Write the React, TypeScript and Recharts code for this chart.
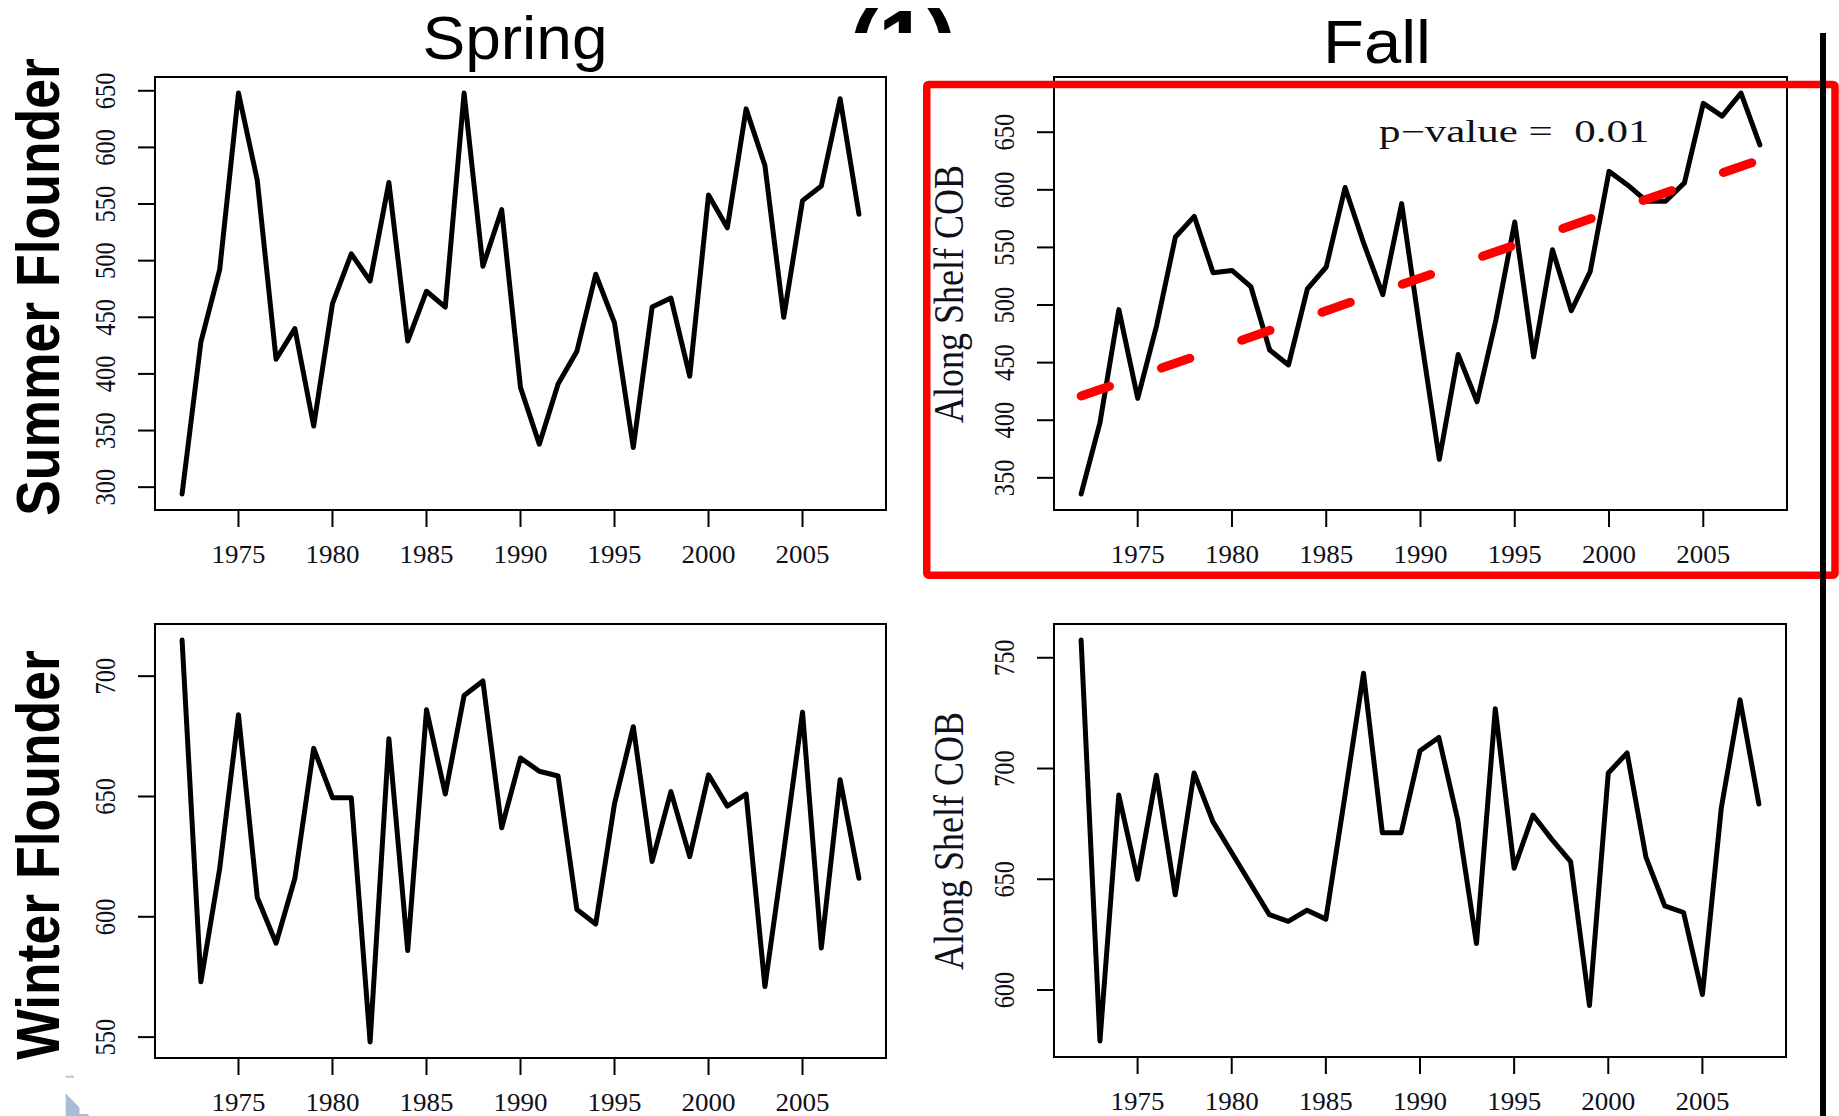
import React from "react";
import { LineChart, Line, XAxis, YAxis, ReferenceArea, ReferenceLine } from "recharts";

// survey years shared by all four panels
const years = [
  1972, 1973, 1974, 1975, 1976, 1977, 1978, 1979, 1980, 1981, 1982, 1983, 1984,
  1985, 1986, 1987, 1988, 1989, 1990, 1991, 1992, 1993, 1994, 1995, 1996, 1997,
  1998, 1999, 2000, 2001, 2002, 2003, 2004, 2005, 2006, 2007, 2008,
];

// along shelf centre of biomass, one value per year
const summerSpring = [
  294, 428, 492, 648, 571, 413, 440, 354, 462, 506, 482, 569, 429, 473, 459, 648,
  495, 545, 388, 338, 391, 420, 488, 445, 335, 459, 467, 398, 558, 529, 634, 584,
  450, 553, 566, 643, 541,
];
const summerFall = [
  336, 398, 496, 419, 482, 559, 577, 528, 530, 516, 461, 448, 514, 533, 602, 553,
  509, 588, 475, 366, 457, 416, 487, 572, 455, 548, 495, 529, 616, 604, 590, 590,
  606, 675, 664, 684, 639,
];
const winterSpring = [
  715, 573, 620, 684, 608, 589, 616, 670, 649.5, 649.5, 548, 674, 586, 686, 651,
  692, 698, 637, 666, 660.5, 658.5, 603, 597, 647, 679, 623, 652, 625, 659, 646,
  651, 571, 627, 685, 587, 657, 616,
];
const winterFall = [
  758, 577, 688, 650, 697, 643, 698, 676, 662, 648, 634, 631, 636, 632, 687, 743,
  671, 671, 708, 714, 677, 621, 727, 655, 679, 668, 658, 593, 698, 707, 660, 638,
  635, 598, 682, 731, 684,
];

const yearTicks = [1975, 1980, 1985, 1990, 1995, 2000, 2005];
const summerSpringTicks = [300, 350, 400, 450, 500, 550, 600, 650];
const summerFallTicks = [350, 400, 450, 500, 550, 600, 650];
const winterSpringTicks = [550, 600, 650, 700];
const winterFallTicks = [600, 650, 700, 750];

// linear trend on the fall summer flounder series (end points)
const summerFallTrend = [
  { year: 1972, cob: 421 },
  { year: 2008, cob: 626 },
];
const summerFallPValue = 0.01;

const SERIF = '"Liberation Serif", "Times New Roman", serif';
const SANS = '"Liberation Sans", Arial, sans-serif';

const PAD_L = 70;
const PAD_T = 10;
const PAD_R = 10;
const PAD_B = 70;
const TICK = 17;

// base R style axis range: data range plus 4% each side
const padRange = (vals: number[]): [number, number] => {
  const lo = Math.min(...vals);
  const hi = Math.max(...vals);
  const d = (hi - lo) * 0.04;
  return [lo - d, hi + d];
};

// text drawn a little wider than tall, like the exported figure
const Stretched = ({ x, y, sx, angle = 0, children, ...rest }: any) => (
  <g transform={`translate(${x},${y}) scale(${sx},1) rotate(${angle})`}>
    <text x={0} y={0} style={{ whiteSpace: "pre" }} {...rest}>
      {children}
    </text>
  </g>
);

const XTick = ({ x, y, payload }: any) => (
  <Stretched x={x} y={y + 36} sx={1.08} textAnchor="middle" fontFamily={SERIF} fontSize={25} fill="#10101a">
    {payload.value}
  </Stretched>
);

const YTick = ({ x, y, payload }: any) => (
  <Stretched x={x - 23.5} y={y} sx={1.18} angle={-90} textAnchor="middle" fontFamily={SERIF} fontSize={24.5} fill="#10101a">
    {payload.value}
  </Stretched>
);

interface PanelProps {
  left: number;
  top: number;
  width: number;
  height: number;
  values: number[];
  yTicks: number[];
  trend?: { year: number; cob: number }[];
}

const Panel = ({ left, top, width, height, values, yTicks, trend }: PanelProps) => {
  const data = years.map((year, i) => ({ year, cob: values[i] }));
  const xDomain = padRange(years);
  const yDomain = padRange(values);

  return (
    <div style={{ position: "absolute", left: left - PAD_L, top: top - PAD_T }}>
      <LineChart
        width={width + PAD_L + PAD_R}
        height={height + PAD_T + PAD_B}
        data={data}
        margin={{ top: PAD_T, right: PAD_R, bottom: 0, left: 0 }}
      >
        <XAxis
          dataKey="year"
          type="number"
          domain={xDomain}
          allowDataOverflow
          ticks={yearTicks}
          interval={0}
          height={PAD_B}
          tickSize={TICK}
          tickMargin={0}
          axisLine={false}
          tickLine={{ stroke: "#000", strokeWidth: 2 }}
          tick={<XTick />}
        />
        <YAxis
          type="number"
          domain={yDomain}
          allowDataOverflow
          ticks={yTicks}
          interval={0}
          width={PAD_L}
          tickSize={TICK}
          tickMargin={0}
          axisLine={false}
          tickLine={{ stroke: "#000", strokeWidth: 2 }}
          tick={<YTick />}
        />
        <ReferenceArea
          x1={xDomain[0]}
          x2={xDomain[1]}
          y1={yDomain[0]}
          y2={yDomain[1]}
          fill="none"
          stroke="#000"
          strokeWidth={2}
          ifOverflow="visible"
        />
        <Line
          dataKey="cob"
          type="linear"
          stroke="#000"
          strokeWidth={5}
          strokeLinejoin="round"
          strokeLinecap="round"
          dot={false}
          activeDot={false}
          isAnimationActive={false}
        />
        {trend && (
          <ReferenceLine
            segment={trend.map((p) => ({ x: p.year, y: p.cob }))}
            stroke="#ff0000"
            strokeWidth={9}
            strokeDasharray="30 55"
            strokeLinecap="round"
            ifOverflow="visible"
          />
        )}
      </LineChart>
    </div>
  );
};

export default function App() {
  return (
    <div
      style={{
        position: "absolute",
        left: 0,
        top: 0,
        width: 1839,
        height: 1116,
        background: "#fff",
        overflow: "hidden",
      }}
    >
      <Panel left={155} top={77} width={731} height={433} values={summerSpring} yTicks={summerSpringTicks} />
      <Panel left={1054} top={77} width={733} height={433} values={summerFall} yTicks={summerFallTicks} trend={summerFallTrend} />
      <Panel left={155} top={624} width={731} height={434} values={winterSpring} yTicks={winterSpringTicks} />
      <Panel left={1054} top={624} width={732} height={433} values={winterFall} yTicks={winterFallTicks} />

      <svg width={1839} height={1116} style={{ position: "absolute", left: 0, top: 0, pointerEvents: "none" }}>
        <defs>
          <clipPath id="heading-clip">
            <rect x={0} y={0} width={1839} height={33} />
          </clipPath>
        </defs>

        {/* panel number, only its upper edge shows above the figure */}
        <g clipPath="url(#heading-clip)">
          <text x={849} y={71} fontFamily={SANS} fontWeight="bold" fontSize={88} fill="#000">
            (1)
          </text>
        </g>

        <Stretched x={515} y={59} sx={1.05} textAnchor="middle" fontFamily={SANS} fontSize={61} fill="#000">
          Spring
        </Stretched>
        <Stretched x={1377} y={63} sx={1.08} textAnchor="middle" fontFamily={SANS} fontSize={62} fill="#000">
          Fall
        </Stretched>

        <Stretched x={58.5} y={287} sx={1.15} angle={-90} textAnchor="middle" fontFamily={SANS} fontWeight="bold" fontSize={53.5} fill="#000">
          Summer Flounder
        </Stretched>
        <Stretched x={58.5} y={855} sx={1.15} angle={-90} textAnchor="middle" fontFamily={SANS} fontWeight="bold" fontSize={53.5} fill="#000">
          Winter Flounder
        </Stretched>

        <Stretched x={963} y={294} sx={1.18} angle={-90} textAnchor="middle" fontFamily={SERIF} fontSize={36} fill="#10101a">
          Along Shelf COB
        </Stretched>
        <Stretched x={963} y={841} sx={1.18} angle={-90} textAnchor="middle" fontFamily={SERIF} fontSize={36} fill="#10101a">
          Along Shelf COB
        </Stretched>

        <Stretched x={1379} y={142} sx={1.41} textAnchor="start" fontFamily={SERIF} fontSize={30.5} fill="#10101a">
          {`p\u2212value =  ${summerFallPValue.toFixed(2)}`}
        </Stretched>

        <rect x={926.75} y={84.4} width={908.25} height={490.9} rx={2} fill="none" stroke="#ff0000" strokeWidth={7.5} />
        <line x1={1823} y1={33} x2={1823} y2={1116} stroke="#000" strokeWidth={6} />

        <rect x={65.7} y={1075.7} width={8.3} height={2} fill="#b7c7da" />
        <polygon points="65.7,1093.5 79.5,1107.5 79.5,1114 88.5,1114 88.5,1116 65.7,1116" fill="#a8bdd5" />
      </svg>
    </div>
  );
}
